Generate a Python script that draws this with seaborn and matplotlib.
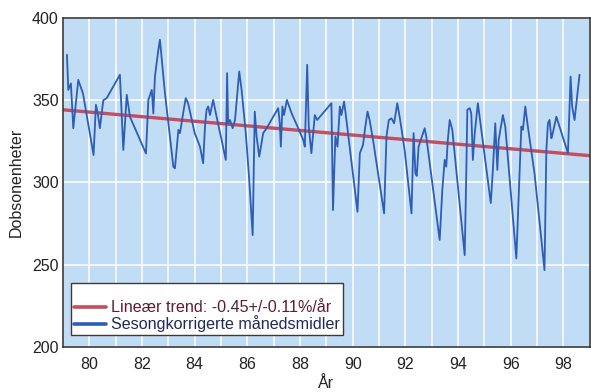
import matplotlib
matplotlib.use("Agg")
import matplotlib.pyplot as plt
import seaborn as sns
import pandas as pd

# Seasonally corrected monthly total ozone (Dobson units)
ozone_years = [
    79.15, 79.20, 79.30, 79.39, 79.50, 79.58, 79.76, 80.16, 80.25, 80.32,
    80.40, 80.53, 80.66, 81.16, 81.29, 81.42, 81.54, 82.15, 82.24, 82.37,
    82.43, 82.49, 82.62, 82.68, 82.75, 82.87, 83.00, 83.19, 83.25, 83.38,
    83.44, 83.56, 83.66, 83.75, 84.00, 84.20, 84.32, 84.39, 84.45, 84.51,
    84.58, 84.70, 84.83, 85.02, 85.18, 85.23, 85.27, 85.34, 85.44, 85.53,
    85.69, 85.78, 85.94, 86.07, 86.20, 86.28, 86.35, 86.45, 86.60, 86.73,
    87.17, 87.23, 87.27, 87.33, 87.39, 87.50, 87.68, 87.93, 88.12, 88.18,
    88.27, 88.33, 88.43, 88.56, 88.65, 89.19, 89.25, 89.34, 89.42, 89.47,
    89.51, 89.57, 89.67, 89.72, 89.82, 90.18, 90.27, 90.39, 90.46, 90.56,
    90.64, 90.77, 91.19, 91.28, 91.37, 91.47, 91.57, 91.69, 91.78, 91.97,
    92.23, 92.31, 92.38, 92.43, 92.50, 92.73, 92.79, 93.30, 93.40, 93.49,
    93.55, 93.61, 93.68, 93.78, 94.25, 94.31, 94.35, 94.44, 94.50, 94.56,
    94.63, 94.75, 94.88, 95.24, 95.32, 95.41, 95.49, 95.54, 95.70, 95.79,
    96.21, 96.33, 96.40, 96.46, 96.55, 96.63, 96.90, 97.28, 97.35, 97.41,
    97.47, 97.54, 97.58, 97.73, 97.79, 98.17, 98.27, 98.33, 98.42, 98.61,
]
ozone_du = [
    377.6, 356.3, 360.2, 333.0, 350.2, 362.4, 354.0, 316.7, 347.2, 342.0,
    333.0, 350.0, 351.3, 365.5, 319.8, 353.3, 340.0, 317.6, 350.2, 356.3,
    342.0, 364.4, 380.7, 386.8, 374.6, 354.3, 336.0, 309.6, 308.6, 332.0,
    330.0, 342.0, 351.3, 348.2, 330.0, 321.8, 311.7, 334.0, 344.2, 346.2,
    341.0, 350.2, 340.0, 325.9, 313.7, 366.5, 336.0, 338.0, 333.0, 338.0,
    367.5, 356.3, 330.0, 301.5, 268.0, 343.1, 328.0, 315.7, 330.0, 333.0,
    345.2, 336.0, 321.8, 346.2, 341.0, 350.2, 342.0, 333.0, 325.9, 321.8,
    371.6, 334.0, 317.8, 341.0, 338.0, 348.2, 283.2, 328.0, 321.8, 336.0,
    346.2, 341.0, 349.2, 343.1, 330.0, 282.2, 317.8, 322.8, 332.0, 343.1,
    338.0, 325.9, 281.2, 328.0, 338.0, 339.0, 336.0, 348.2, 340.0, 319.8,
    281.2, 330.0, 305.6, 304.0, 321.8, 333.0, 328.0, 265.0, 295.4, 313.7,
    309.6, 325.9, 338.0, 332.0, 255.8, 305.6, 344.2, 345.2, 342.0, 313.7,
    330.0, 348.2, 332.0, 287.5, 307.6, 336.0, 307.6, 325.9, 341.0, 334.0,
    253.8, 305.6, 334.0, 332.0, 346.2, 336.0, 305.6, 246.7, 319.8, 336.0,
    338.0, 326.9, 329.0, 340.0, 337.0, 317.8, 364.4, 346.2, 338.0, 365.5,
]

# Fitted linear trend, evaluated at the ends of the time axis
trend_years = [79.0, 99.0]
trend_du = [344.2, 316.3]

x_ticks = [80, 82, 84, 86, 88, 90, 92, 94, 96, 98]
y_ticks = [200, 250, 300, 350, 400]

trend_label = "Lineær trend: -0.45+/-0.11%/år"
series_label = "Sesongkorrigerte månedsmidler"

sns.set_theme(style="white")
plt.rcParams["font.family"] = ["Liberation Sans", "DejaVu Sans"]

fig = plt.figure(figsize=(5.91, 3.92), dpi=100)
ax = fig.add_axes([0.1066, 0.115, 0.8914, 0.839])
ax.set_facecolor("#c1dcf5")

# white grid: every year on x, every 50 DU on y
for yr in range(79, 100):
    ax.axvline(yr, color="white", lw=1.3, alpha=0.85, zorder=0)
for v in y_ticks:
    ax.axhline(v, color="white", lw=1.3, alpha=0.85, zorder=0)

trend_df = pd.DataFrame({"year": trend_years, "du": trend_du})
ozone_df = pd.DataFrame({"year": ozone_years, "du": ozone_du})

sns.lineplot(data=trend_df, x="year", y="du", ax=ax, color="#c44d5e",
             lw=2.4, label=trend_label, zorder=2, estimator=None)
sns.lineplot(data=ozone_df, x="year", y="du", ax=ax, color="#2d5db6",
             lw=1.3, label=series_label, zorder=3, estimator=None)

ax.set_xlim(79.0, 99.0)
ax.set_ylim(200, 400)
ax.set_xticks(x_ticks)
ax.set_yticks(y_ticks)
ax.tick_params(axis="x", length=0, labelsize=11.5, colors="#222222", pad=7)
ax.tick_params(axis="y", length=0, labelsize=11.5, colors="#222222", pad=3)
ax.set_xlabel("År", fontsize=11.5, color="#222222", labelpad=3)
ax.set_ylabel("Dobsonenheter", fontsize=11.5, color="#222222", labelpad=6)

for s in ax.spines.values():
    s.set_color("#3a3a3a")
    s.set_linewidth(1.2)

leg = ax.legend(loc="lower left", bbox_to_anchor=(0.015, 0.035), frameon=True,
                fontsize=11.6, title=" ", title_fontsize=10, handlelength=2.0,
                handletextpad=0.3, borderpad=0.2, labelspacing=0.0,
                fancybox=False, borderaxespad=0)
leg.get_frame().set_edgecolor("#3a3a3a")
leg.get_frame().set_linewidth(1.0)
leg.get_frame().set_facecolor("white")
leg.get_frame().set_alpha(1)
texts = leg.get_texts()
texts[0].set_color("#5a1e30")
texts[1].set_color("#1e2a5a")
for h in leg.legend_handles:
    h.set_linewidth(2.6)

fig.savefig("out.png", dpi=100, facecolor="white")
